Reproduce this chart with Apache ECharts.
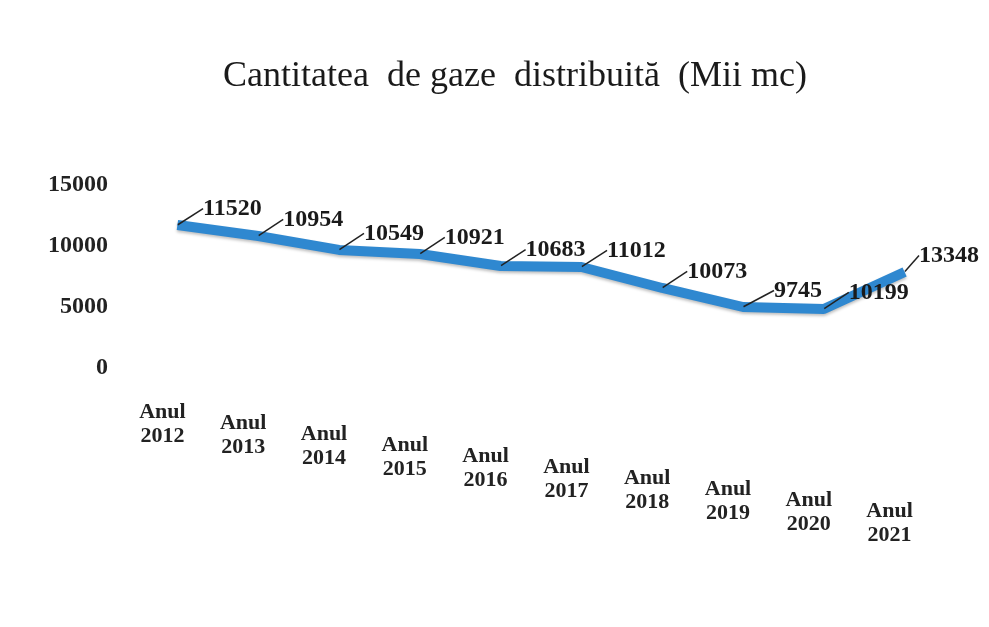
<!DOCTYPE html>
<html>
<head>
<meta charset="utf-8">
<title>Cantitatea de gaze distribuita</title>
<script src="https://cdn.jsdelivr.net/npm/echarts@6/dist/echarts.min.js"></script>
<style>
    html, body { margin: 0; padding: 0; background: #fff; }
    #chart { width: 989px; height: 627px; }
</style>
</head>
<body>
<div id="chart"></div>
<script>
// categories and values
var years = ['2012', '2013', '2014', '2015', '2016', '2017', '2018', '2019', '2020', '2021'];
// height of the line as drawn in the picture
var lineValues = [11720, 10820, 9680, 9350, 8360, 8280, 6560, 5000, 4840, 7870];
// numbers printed on the labels
var labelValues = [11520, 10954, 10549, 10921, 10683, 11012, 10073, 9745, 10199, 13348];
var yTicks = [0, 5000, 10000, 15000];

var serif = '"Liberation Serif", "DejaVu Serif", serif';

// labels step down to the right in the scan
var rich = {
    b: { fontFamily: serif, fontWeight: 'bold', fontSize: 22, color: '#222', lineHeight: 27, padding: [0, 30, 0, 0] }
};
for (var i = 0; i < years.length; i++) {
    rich['a' + i] = {
        fontFamily: serif, fontWeight: 'bold', fontSize: 22, color: '#222',
        lineHeight: 27 + i * 11, verticalAlign: 'bottom', padding: [0, 30, 0, 0]
    };
}

var myChart = echarts.init(document.getElementById('chart'));
var option = {
    backgroundColor: '#fff',
    title: {
        text: 'Cantitatea  de gaze  distribuită  (Mii mc)',
        left: 510,
        top: 54,
        textAlign: 'center',
        textStyle: { fontFamily: serif, fontWeight: 'normal', fontSize: 36, color: '#1a1a1a' }
    },
    grid: { left: 137, right: 44, top: 185, bottom: 259, outerBoundsMode: 'none' },
    xAxis: {
        type: 'category',
        data: years,
        axisLine: { show: false },
        axisTick: { show: false },
        axisLabel: {
            interval: 0,
            margin: 28,
            verticalAlign: 'top',
            formatter: function (v, idx) {
                return '{a' + idx + '|Anul}\n{b|' + v + '}';
            },
            rich: rich
        }
    },
    yAxis: {
        type: 'value',
        min: yTicks[0],
        max: yTicks[yTicks.length - 1],
        interval: 5000,
        splitLine: { show: false },
        axisLine: { show: false },
        axisTick: { show: false },
        axisLabel: {
            margin: 29,
            fontFamily: serif,
            fontWeight: 'bold',
            fontSize: 24,
            color: '#222',
            formatter: function (v) { return String(v); }
        }
    },
    series: [{
        type: 'line',
        data: lineValues,
        showSymbol: true,
        symbol: 'circle',
        symbolSize: 1,
        itemStyle: { color: '#2f88d0' },
        lineStyle: {
            color: '#2f88d0',
            width: 10,
            shadowColor: 'rgba(0,0,0,0.25)',
            shadowBlur: 3,
            shadowOffsetY: 2
        },
        label: {
            show: true,
            position: 'top',
            distance: 0,
            fontFamily: serif,
            fontWeight: 'bold',
            fontSize: 24,
            color: '#1a1a1a',
            formatter: function (p) { return labelValues[p.dataIndex]; }
        },
        labelLayout: function (params) {
            var r = params.labelRect;
            var room = myChart.getWidth() - 10 - (r.x + r.width);
            return { dx: Math.min(55, room), dy: -4 };
        },
        labelLine: { show: true, lineStyle: { color: '#222', width: 1.5 } },
        silent: true
    }]
};
myChart.setOption(option);
</script>
</body>
</html>
